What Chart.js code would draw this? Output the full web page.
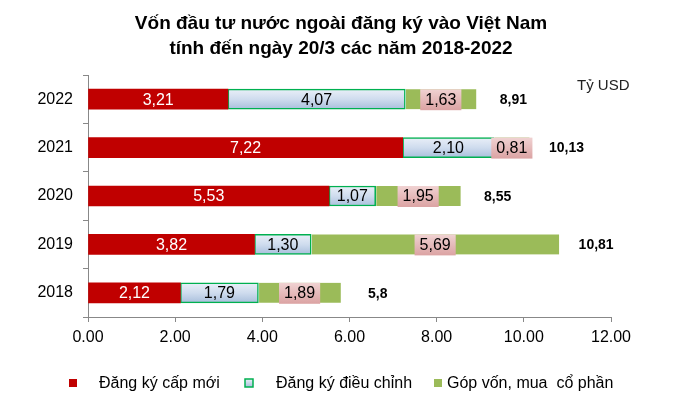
<!DOCTYPE html>
<html>
<head>
<meta charset="utf-8">
<script src="https://cdn.jsdelivr.net/npm/chart.js@4/dist/chart.umd.min.js"></script>
<style>
  html, body { margin: 0; padding: 0; background: #fff; }
  #c { display: block; }
</style>
</head>
<body>
<canvas id="c" width="688" height="394"></canvas>
<script>
// ---- Data ----
const categories = ['2022', '2021', '2020', '2019', '2018'];
const newRegistration = [3.21, 7.22, 5.53, 3.82, 2.12];
const adjustedRegistration = [4.07, 2.10, 1.07, 1.30, 1.79];
const capitalContribution = [1.63, 0.81, 1.95, 5.69, 1.89];
const totals = [8.91, 10.13, 8.55, 10.81, 5.8];
const seriesNames = ['Đăng ký cấp mới', 'Đăng ký điều chỉnh', 'Góp vốn, mua  cổ phần'];
const xTicks = [0, 2, 4, 6, 8, 10, 12];
const titleLines = ['Vốn đầu tư nước ngoài đăng ký vào Việt Nam', 'tính đến ngày 20/3 các năm 2018-2022'];
const unitLabel = 'Tỷ USD';

const FONT = '"Liberation Sans", Arial, sans-serif';
const BAR = 20;
const RED = '#c00000', GREEN = '#9bbb59', BORDER_GREEN = '#00b050';

function fmt2(v) { return v.toFixed(2).replace('.', ','); }
function fmtTotal(v) { return String(v).replace('.', ','); }

function blueGradient(ctx) {
  const chart = ctx.chart;
  const ys = chart.scales && chart.scales.y;
  if (!ys || ctx.dataIndex === undefined) return '#c6d9f1';
  const yc = ys.getPixelForValue(ctx.dataIndex);
  if (!isFinite(yc)) return '#c6d9f1';
  const g = chart.ctx.createLinearGradient(0, yc - BAR / 2, 0, yc + BAR / 2);
  g.addColorStop(0, '#e9eff8');
  g.addColorStop(0.5, '#cfdcee');
  g.addColorStop(1, '#a9bfdc');
  return g;
}

const decorPlugin = {
  id: 'decor',
  afterDatasetsDraw(chart) {
    const c = chart.ctx;
    c.save();
    c.textBaseline = 'middle';
    c.textAlign = 'center';
    c.font = '16px ' + FONT;
    chart.data.datasets.forEach((ds, di) => {
      const meta = chart.getDatasetMeta(di);
      meta.data.forEach((el, i) => {
        const cx = (el.x + el.base) / 2;
        const cy = el.y;
        const txt = fmt2(ds.data[i]);
        if (di === 0) {
          c.fillStyle = '#ffffff';
          c.fillText(txt, cx, cy + 1);
        } else if (di === 1) {
          c.fillStyle = '#000000';
          c.fillText(txt, cx, cy + 1);
        } else {
          const w = c.measureText(txt).width + 10;
          const pg = c.createLinearGradient(0, cy - BAR / 2, 0, cy + BAR / 2);
          pg.addColorStop(0, '#f0d2d2');
          pg.addColorStop(1, '#dca5a5');
          c.fillStyle = pg;
          c.fillRect(cx - w / 2, cy - BAR / 2, w, BAR + 1);
          c.fillStyle = '#000000';
          c.fillText(txt, cx, cy + 1);
        }
      });
    });
    c.font = 'bold 14px ' + FONT;
    const xs = chart.scales.x;
    const ys = chart.scales.y;
    totals.forEach((t, i) => {
      const px = xs.getPixelForValue(t) + 37;
      c.fillStyle = '#000000';
      c.fillText(fmtTotal(t), px, ys.getPixelForValue(i) + 1);
    });
    c.restore();
  },
  afterDraw(chart) {
    const c = chart.ctx;
    c.save();
    c.fillStyle = '#000000';
    c.textAlign = 'center';
    c.textBaseline = 'middle';
    c.font = 'bold 19px ' + FONT;
    c.fillText(titleLines[0], 341, 24);
    c.fillText(titleLines[1], 341, 49);
    c.font = '15px ' + FONT;
    c.textAlign = 'left';
    c.fillStyle = '#222';
    c.fillText(unitLabel, 577, 86);
    const ly = 383;
    c.font = '16px ' + FONT;
    c.fillStyle = RED;
    c.fillRect(69, ly - 4, 8, 8);
    c.fillStyle = '#000';
    c.fillText(seriesNames[0], 99, ly + 1);
    const g = c.createLinearGradient(0, ly - 4, 0, ly + 4);
    g.addColorStop(0, '#e9eff8');
    g.addColorStop(1, '#a9bfdc');
    c.fillStyle = g;
    c.fillRect(245, ly - 4, 8, 8);
    c.strokeStyle = BORDER_GREEN;
    c.lineWidth = 1.5;
    c.strokeRect(245, ly - 4, 8, 8);
    c.fillStyle = '#000';
    c.fillText(seriesNames[1], 276, ly + 1);
    c.fillStyle = GREEN;
    c.fillRect(434, ly - 4, 8, 8);
    c.fillStyle = '#000';
    c.fillText(seriesNames[2], 447, ly + 1);
    c.restore();
  }
};

new Chart(document.getElementById('c'), {
  type: 'bar',
  data: {
    labels: categories,
    datasets: [
      { label: seriesNames[0], data: newRegistration, backgroundColor: RED, borderWidth: 0 },
      { label: seriesNames[1], data: adjustedRegistration, backgroundColor: blueGradient,
        borderColor: BORDER_GREEN, borderWidth: 1.5, borderSkipped: false },
      { label: seriesNames[2], data: capitalContribution, backgroundColor: GREEN,
        borderColor: '#ffffff', borderWidth: { left: 1, right: 0, top: 0, bottom: 0 }, borderSkipped: false }
    ]
  },
  options: {
    indexAxis: 'y',
    responsive: false,
    animation: false,
    devicePixelRatio: 1,
    barThickness: BAR,
    layout: { padding: { top: 75, right: 77, left: 0, bottom: 0 } },
    plugins: {
      legend: { display: false },
      title: { display: false },
      tooltip: { enabled: false }
    },
    scales: {
      x: {
        stacked: true,
        min: 0, max: 12,
        afterBuildTicks(s) { s.ticks = xTicks.map(v => ({ value: v })); },
        afterFit(s) { s.height = 77; },
        grid: { drawOnChartArea: false, drawTicks: true, tickLength: 5, color: '#888' },
        border: { color: '#888', width: 1 },
        ticks: {
          padding: 6,
          color: '#000',
          font: { family: FONT, size: 16 },
          callback: v => Number(v).toFixed(2)
        }
      },
      y: {
        stacked: true,
        afterFit(s) { s.width = 88; },
        grid: { offset: true, drawOnChartArea: false, drawTicks: true, tickLength: 5, color: '#888' },
        border: { color: '#888', width: 1 },
        ticks: {
          padding: 10,
          color: '#000',
          font: { family: FONT, size: 16 }
        }
      }
    }
  },
  plugins: [decorPlugin]
});
</script>
</body>
</html>
